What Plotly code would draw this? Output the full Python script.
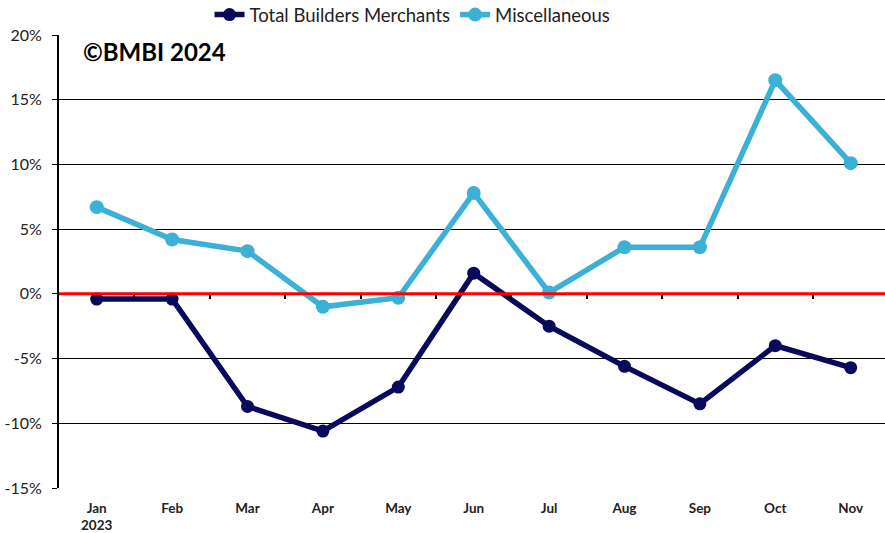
import plotly.graph_objects as go

months = ["Jan<br>2023", "Feb", "Mar", "Apr", "May", "Jun", "Jul", "Aug", "Sep", "Oct", "Nov"]
total_bm = [-0.4, -0.4, -8.7, -10.6, -7.2, 1.6, -2.5, -5.6, -8.5, -4.0, -5.7]
misc = [6.7, 4.2, 3.3, -1.0, -0.3, 7.8, 0.1, 3.6, 3.6, 16.5, 10.1]
y_ticks = [-15, -10, -5, 0, 5, 10, 15, 20]

NAVY = "#0a0a5c"
CYAN = "#3cb0d6"
FONT = "Lato, 'Open Sans', sans-serif"

x = list(range(len(months)))

fig = go.Figure()
fig.add_trace(go.Scatter(
    x=x, y=total_bm, name="Total Builders Merchants", mode="lines+markers",
    line=dict(color=NAVY, width=5.5), marker=dict(color=NAVY, size=13),
))
fig.add_trace(go.Scatter(
    x=x, y=misc, name="Miscellaneous", mode="lines+markers",
    line=dict(color=CYAN, width=5.5), marker=dict(color=CYAN, size=14),
))
# invisible trace to carry the tick marks on the zero line
fig.add_trace(go.Scatter(x=[x[0]], y=[0], xaxis="x2", showlegend=False,
                         mode="markers", marker=dict(opacity=0), hoverinfo="skip"))

fig.add_hline(y=0, line=dict(color="#ff0000", width=3), layer="above")

fig.add_annotation(
    text="<b>©BMBI 2024</b>", xref="paper", yref="paper", x=0.027, y=0.963,
    xanchor="left", yanchor="middle", showarrow=False,
    font=dict(size=24, color="#000000", family=FONT),
)

fig.update_layout(
    width=885, height=533,
    margin=dict(l=59, r=0, t=35, b=45, autoexpand=False),
    paper_bgcolor="white", plot_bgcolor="white",
    font=dict(family=FONT, color="#222222"),
    showlegend=True,
    legend=dict(orientation="h", x=0.428, xanchor="center", y=1.044, yanchor="middle",
                font=dict(size=18.5, color="#222222"), itemwidth=30,
                bgcolor="rgba(0,0,0,0)", tracegroupgap=0),
    xaxis=dict(
        range=[-0.5, 10.455], tickvals=x, ticktext=[f"<b>{m}</b>" for m in months],
        tickfont=dict(size=13.5, color="#222222"), showgrid=False, zeroline=False,
        showline=False, ticks="", automargin=False, ticklabelstandoff=10,
    ),
    xaxis2=dict(
        overlaying="x", anchor="free", position=15 / 35, range=[-0.5, 10.455],
        tickvals=[i + 0.5 for i in x[:-1]], ticks="outside", ticklen=4, tickwidth=2,
        tickcolor="#000000", showticklabels=False, showgrid=False, zeroline=False,
        showline=False, automargin=False,
    ),
    yaxis=dict(
        range=[-15, 20], tickvals=y_ticks, ticktext=[f"{v}%" for v in y_ticks],
        tickfont=dict(size=16, color="#222222"), showgrid=True, gridcolor="#000000",
        gridwidth=1, zeroline=False, showline=True, linecolor="#000000", linewidth=2,
        ticks="outside", ticklen=5, tickcolor="#000000", automargin=False,
        ticklabelstandoff=7,
    ),
)

fig.write_html("out.html", config={"displayModeBar": False},
               post_script="document.body.style.margin='0';")
